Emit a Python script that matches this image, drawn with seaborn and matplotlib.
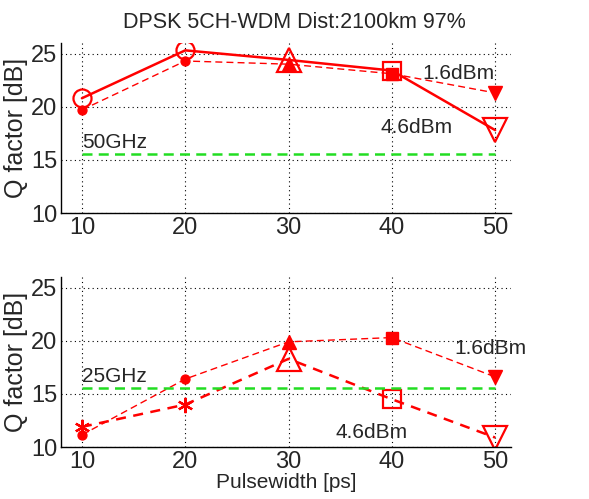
import numpy as np
import pandas as pd
import matplotlib
matplotlib.use('Agg')
import matplotlib.pyplot as plt
import seaborn as sns

sns.set_style('white')
plt.rcParams['font.family'] = ['Liberation Sans', 'DejaVu Sans']

pulsewidth = [10, 20, 30, 40, 50]

# 50GHz spacing (top panel)
q50_hi = [20.8, 25.3, 24.4, 23.4, 17.8]   # 4.6dBm, solid, open markers
q50_lo = [19.7, 24.3, 24.0, 23.1, 21.3]   # 1.6dBm, thin dashed, filled markers
# 25GHz spacing (bottom panel)
q25_hi = [11.9, 14.0, 18.3, 14.5, 10.9]   # 4.6dBm, thick dashed, open markers
q25_lo = [11.15, 16.4, 19.9, 20.3, 16.6]  # 1.6dBm, thin dashed, filled markers

q_limit = [15.55, 15.55]
limit_x = [10, 50]

markers_hi_top = ['o', 'o', '^', 's', 'v']
markers_hi_bot = ['*', '*', '^', 's', 'v']
markers_lo = ['.', '.', '^', 's', 'v']
size_hi = [13, 13, 17, 13, 17]
size_lo = [8, 8, 10, 8, 10]

red = '#ff0000'
green = '#22dd22'

fig = plt.figure(figsize=(5.89, 4.99), dpi=100)
ax1 = fig.add_axes([0.104, 0.573, 0.763, 0.341])
ax2 = fig.add_axes([0.104, 0.104, 0.763, 0.341])


def draw_panel(ax, hi, lo, hi_markers, hi_style, label):
    df = pd.DataFrame({'x': pulsewidth, 'hi': hi, 'lo': lo})
    sns.lineplot(data=df, x='x', y='lo', ax=ax, color=red, lw=1.0,
                 linestyle=(0, (5, 3)))
    sns.lineplot(data=df, x='x', y='hi', ax=ax, color=red, lw=1.8,
                 linestyle=hi_style)
    for xi, yi, m, s in zip(pulsewidth, lo, markers_lo, size_lo):
        ms = s * 1.6 if m == '.' else s
        ax.plot(xi, yi, marker=m, ms=ms, color=red, mfc=red, mec=red, ls='none')
    for xi, yi, m, s in zip(pulsewidth, hi, hi_markers, size_hi):
        if m == '*':
            ax.plot(xi, yi, marker=(6, 2, 0), ms=11, color=red, mew=1.6, ls='none')
        else:
            ax.plot(xi, yi, marker=m, ms=s, mfc='none', mec=red, mew=1.6, ls='none')
    gdf = pd.DataFrame({'x': limit_x, 'y': q_limit})
    sns.lineplot(data=gdf, x='x', y='y', ax=ax, color=green, lw=1.8,
                 linestyle=(0, (4, 2.5)))
    ax.text(10, 15.75, label, fontsize=15, ha='left', va='bottom')

    ax.set_xlim(8, 51.5)
    ax.set_ylim(10, 26)
    ax.set_xticks(pulsewidth)
    ax.set_yticks([10, 15, 20, 25])
    ax.tick_params(labelsize=17, direction='in', length=4, color='black', pad=3)
    ax.grid(True, color='black', linestyle=(0, (1, 3)), lw=0.8)
    for side in ['top', 'right']:
        ax.spines[side].set_visible(False)
    for side in ['left', 'bottom']:
        ax.spines[side].set_color('black')
        ax.spines[side].set_linewidth(1.0)
    ax.set_ylabel('Q factor [dB]', fontsize=18, labelpad=2)
    ax.set_xlabel('')


draw_panel(ax1, q50_hi, q50_lo, markers_hi_top, '-', '50GHz')
draw_panel(ax2, q25_hi, q25_lo, markers_hi_bot, (0, (4, 3)), '25GHz')

ax1.text(43.0, 23.1, '1.6dBm', fontsize=15, va='center')
ax1.text(38.9, 18.0, '4.6dBm', fontsize=15, va='center')
ax2.text(46.1, 19.3, '1.6dBm', fontsize=15, va='center')
ax2.text(34.5, 11.4, '4.6dBm', fontsize=15, va='center')

ax2.set_xlabel('Pulsewidth [ps]', fontsize=15, labelpad=0)
fig.text(0.50, 0.975, 'DPSK 5CH-WDM Dist:2100km 97%', fontsize=15.5,
         ha='center', va='top')

fig.savefig('out.png', dpi=100)
